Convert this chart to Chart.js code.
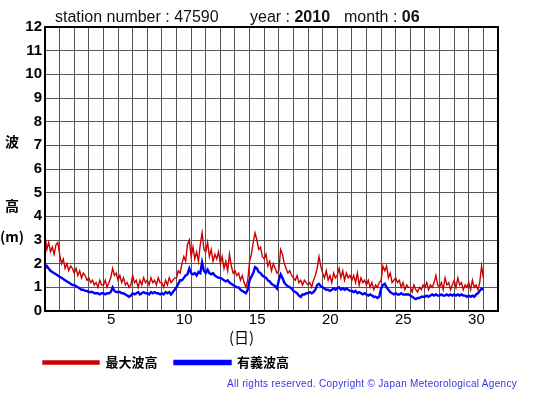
<!DOCTYPE html>
<html>
<head>
<meta charset="utf-8">
<script src="https://cdn.jsdelivr.net/npm/chart.js@4/dist/chart.umd.min.js"></script>
<style>
  html, body { margin: 0; padding: 0; background: #fff; }
  #wrap { position: relative; width: 555px; height: 395px; overflow: hidden; }
  canvas { position: absolute; left: 0; top: 0; }
  .t { position: absolute; white-space: nowrap; line-height: 1; color: #000; }
  .hdr { font-family: "Liberation Sans", Arial, sans-serif; font-size: 16px; color: #111; }
  .hdr b { font-weight: bold; }
  .yl { font-family: "Noto Sans CJK JP", sans-serif; font-weight: bold; font-size: 14px; }
  .copy { font-family: "Liberation Sans", Arial, sans-serif; font-size: 10px; color: #3535e0; letter-spacing: 0.3px; }
</style>
</head>
<body>
<div id="wrap">
  <canvas id="c" width="555" height="395"></canvas>
  <div class="t hdr" style="left:55px; top:9px;">station number : 47590</div>
  <div class="t hdr" style="left:250px; top:9px;">year : <b>2010</b></div>
  <div class="t hdr" style="left:344px; top:9px;">month : <b>06</b></div>
  <div class="t yl" style="left:5px; top:134px;">波</div>
  <div class="t yl" style="left:5px; top:198px;">高</div>
  <div class="t yl" style="left:0px; top:229px;">(m)</div>
  <div class="t yl" style="left:229px; top:329px; font-weight:normal; font-size:15px;">(日)</div>
  <div class="t copy" style="right:38px; top:379px;">All rights reserved. Copyright © Japan Meteorological Agency</div>
</div>
<script>
// 3-hourly values, June 2010, station 47590 (starting at day 0 = June 1 00:00)
const seriesNames = ['最大波高', '有義波高'];
const maxWave = [
  3.2, 2.6, 2.9, 2.5, 2.7, 2.4, 2.8, 2.9,
  2.4, 2.0, 2.2, 1.8, 2.0, 1.7, 1.9, 1.8,
  1.6, 1.8, 1.5, 1.7, 1.4, 1.6, 1.5, 1.3,
  1.4, 1.2, 1.3, 1.1, 1.2, 1.0, 1.3, 1.1,
  1.1, 1.3, 1.0, 1.2, 1.4, 1.8, 1.5, 1.6,
  1.3, 1.5, 1.2, 1.4, 1.1, 1.2, 1.0, 1.1,
  1.5, 1.2, 1.3, 1.0, 1.3, 1.1, 1.4, 1.2,
  1.3, 1.1, 1.4, 1.2, 1.3, 1.1, 1.4, 1.2,
  1.2, 1.0, 1.3, 1.1, 1.4, 1.2, 1.3, 1.4,
  1.4, 1.7, 1.6, 2.0, 2.3, 2.1, 2.8, 3.0,
  2.3, 2.7, 2.2, 2.5, 2.1, 2.8, 3.3, 2.6,
  2.5, 2.9, 2.3, 2.6, 2.1, 2.4, 2.2, 2.5,
  2.0, 2.3, 1.8, 2.1, 1.7, 2.4, 1.9, 1.6,
  1.7, 1.5, 1.6, 1.3, 1.5, 1.2, 1.0, 1.3,
  2.1, 2.4, 2.9, 3.3, 3.0, 2.6, 2.7, 2.3,
  2.2, 2.4, 1.9, 2.1, 1.7, 2.0, 1.8, 1.6,
  1.7, 2.6, 2.4, 2.0, 1.8, 1.6, 1.7, 1.5,
  1.4, 1.3, 1.5, 1.2, 1.3, 1.1, 1.3, 1.2,
  1.1, 1.2, 1.0, 1.3, 1.5, 1.8, 2.3, 1.9,
  1.6, 1.4, 1.7, 1.3, 1.5, 1.2, 1.6, 1.4,
  1.5, 1.8, 1.4, 1.7, 1.3, 1.6, 1.4, 1.5,
  1.3, 1.5, 1.2, 1.6, 1.1, 1.4, 1.2, 1.3,
  1.1, 1.3, 1.0, 1.2, 0.9, 1.1, 1.0, 1.2,
  1.3, 1.9, 1.7, 1.9, 1.4, 1.6, 1.2, 1.3,
  1.4, 1.2, 1.3, 1.0, 1.2, 0.9, 1.1, 1.0,
  1.0, 0.8, 1.1, 0.9, 0.8, 1.0, 0.9, 1.1,
  1.0, 1.2, 0.9, 1.1, 1.0, 1.2, 1.5, 1.1,
  1.0, 1.2, 0.9, 1.4, 1.1, 1.2, 0.9, 1.1,
  1.3, 1.0, 1.4, 1.1, 1.2, 0.9, 1.1, 1.0,
  1.2, 0.9, 1.3, 1.0, 1.1, 0.9, 1.2, 1.9,
  1.4
];
const sigWave = [
  1.8, 1.9, 1.8, 1.7, 1.65, 1.6, 1.55, 1.5,
  1.45, 1.4, 1.35, 1.3, 1.25, 1.2, 1.15, 1.1,
  1.1, 1.05, 1.0, 0.95, 0.9, 0.9, 0.85, 0.85,
  0.8, 0.8, 0.8, 0.75, 0.75, 0.75, 0.7, 0.75,
  0.75, 0.7, 0.75, 0.75, 0.8, 1.0, 0.85, 0.8,
  0.8, 0.8, 0.75, 0.75, 0.7, 0.65, 0.6, 0.65,
  0.75, 0.7, 0.75, 0.8, 0.7, 0.75, 0.8, 0.75,
  0.75, 0.7, 0.8, 0.75, 0.8, 0.75, 0.75, 0.7,
  0.75, 0.7, 0.8, 0.75, 0.8, 0.7, 0.8, 0.9,
  1.0, 1.15, 1.3, 1.3, 1.4, 1.5, 1.55, 1.8,
  1.6, 1.55, 1.6, 1.5, 1.65, 1.6, 2.05, 1.7,
  1.6, 1.75, 1.6, 1.55, 1.6, 1.5, 1.45, 1.4,
  1.4, 1.35, 1.3, 1.25, 1.3, 1.2, 1.15, 1.1,
  1.05, 1.0, 1.0, 0.9, 0.85, 0.8, 0.75, 0.9,
  1.3, 1.45, 1.6, 1.85, 1.8, 1.65, 1.6, 1.5,
  1.45, 1.4, 1.3, 1.25, 1.15, 1.1, 1.05, 0.95,
  1.3, 1.55, 1.4, 1.2, 1.1, 1.05, 1.0, 0.95,
  0.85, 0.8, 0.75, 0.65, 0.6, 0.7, 0.7, 0.75,
  0.75, 0.8, 0.75, 0.8, 0.9, 1.1, 1.15, 1.05,
  1.0, 0.95, 0.9, 0.9, 0.85, 0.9, 0.95, 0.9,
  0.95, 1.0, 0.9, 0.95, 0.9, 0.95, 0.9, 0.85,
  0.85, 0.8, 0.85, 0.75, 0.8, 0.75, 0.7, 0.75,
  0.7, 0.65, 0.7, 0.65, 0.6, 0.6, 0.55, 0.6,
  0.95, 1.1, 1.15, 1.0, 0.9, 0.8, 0.75, 0.7,
  0.75, 0.7, 0.7, 0.75, 0.7, 0.7, 0.7, 0.7,
  0.65, 0.6, 0.55, 0.5, 0.55, 0.55, 0.6, 0.6,
  0.6, 0.65, 0.6, 0.65, 0.7, 0.65, 0.7, 0.65,
  0.65, 0.7, 0.65, 0.65, 0.7, 0.65, 0.7, 0.65,
  0.7, 0.65, 0.7, 0.65, 0.7, 0.65, 0.65, 0.6,
  0.65, 0.6, 0.65, 0.6, 0.7, 0.75, 0.85, 0.95,
  0.9
];
const dayLabels = [5, 10, 15, 20, 25, 30];
const yTicks = [0,1,2,3,4,5,6,7,8,9,10,11,12];
const stepsPerDay = 8;
const xDays = maxWave.map((_, i) => i / stepsPerDay);

const toPts = arr => arr.map((v, i) => ({ x: xDays[i], y: v }));

const framePlugin = {
  id: 'frame',
  afterDraw(chart) {
    const { ctx, chartArea: a } = chart;
    ctx.save();
    ctx.strokeStyle = '#000';
    ctx.lineWidth = 2;
    ctx.strokeRect(a.left, a.top, a.right - a.left, a.bottom - a.top);
    ctx.restore();
  }
};

new Chart(document.getElementById('c'), {
  type: 'line',
  data: {
    datasets: [
      { label: seriesNames[0], data: toPts(maxWave), borderColor: '#cc0000', backgroundColor: '#cc0000', borderWidth: 1.4, pointRadius: 0, tension: 0 },
      { label: seriesNames[1], data: toPts(sigWave), borderColor: '#0000ff', backgroundColor: '#0000ff', borderWidth: 2.4, pointRadius: 0, tension: 0 }
    ]
  },
  options: {
    responsive: false,
    animation: false,
    devicePixelRatio: 1,
    layout: { padding: { left: 26, right: 57, top: 27, bottom: 16 } },
    plugins: {
      legend: {
        position: 'bottom',
        align: 'start',
        labels: {
          boxWidth: 56, boxHeight: 3, padding: 17, color: '#000',
          font: { family: '"Noto Sans CJK JP", sans-serif', size: 13, weight: 'bold' }
        }
      },
      tooltip: { enabled: false }
    },
    scales: {
      x: {
        type: 'linear', min: 0, max: 31,
        afterBuildTicks: s => { s.ticks = Array.from({ length: 32 }, (_, i) => ({ value: i })); },
        afterFit: s => { s.height = 28; },
        ticks: {
          autoSkip: false, maxRotation: 0, padding: 0, labelOffset: -7.0, color: '#000',
          font: { family: '"Liberation Sans", Arial, sans-serif', size: 15 },
          callback: v => dayLabels.includes(v) ? String(v) : ''
        },
        grid: { color: '#555', lineWidth: 1, drawTicks: false },
        border: { color: '#000', width: 2 }
      },
      y: {
        min: 0, max: 12,
        afterBuildTicks: s => { s.ticks = yTicks.map(v => ({ value: v })); },
        afterFit: s => { s.width = 19; },
        ticks: {
          padding: 3, color: '#000',
          font: { family: '"Liberation Sans", Arial, sans-serif', size: 15, weight: 'bold' }
        },
        grid: { color: '#555', lineWidth: 1, drawTicks: false },
        border: { color: '#000', width: 2 }
      }
    }
  },
  plugins: [framePlugin]
});
</script>
</body>
</html>
